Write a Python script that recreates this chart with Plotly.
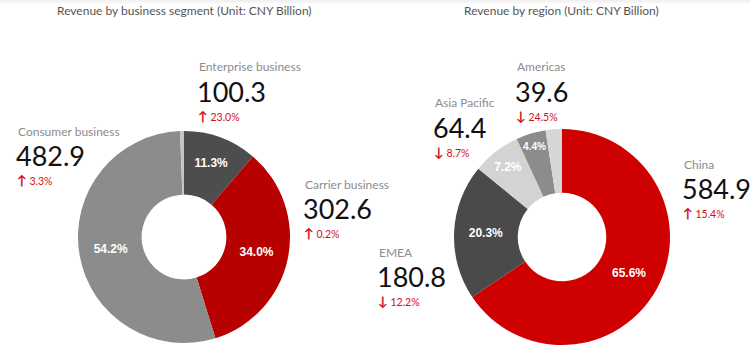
import plotly.graph_objects as go

# Data
seg_labels = ["Enterprise business", "Carrier business", "Consumer business", "Other"]
seg_values = [100.3, 302.6, 482.9, 5.3]
seg_change = ["↑|23.0%", "↑|0.2%", "↑|3.3%", ""]
seg_colors = ["#4d4d4d", "#b70000", "#8c8c8c", "#c4c4c4"]

reg_labels = ["China", "EMEA", "Asia Pacific", "Americas", "Other"]
reg_values = [584.9, 180.8, 64.4, 39.6, 21.7]
reg_change = ["↑|15.4%", "↓|12.2%", "↓|8.7%", "↓|24.5%", ""]
reg_colors = ["#cf0000", "#4a4a4a", "#d3d3d3", "#8c8c8c", "#d6d6d6"]

FONT = "Lato"

fig = go.Figure()

fig.add_trace(go.Pie(
    labels=seg_labels, values=seg_values, hole=0.4, sort=False,
    direction="clockwise", rotation=0,
    marker=dict(colors=seg_colors, line=dict(width=0)),
    texttemplate=["<b>%{percent:.1%}</b>"] * 3 + [""],
    textposition="inside", insidetextorientation="horizontal",
    textfont=dict(color="white", size=12, family="Arial"),
    domain=dict(x=[78 / 750, 290 / 750], y=[7 / 350, 219 / 350]),
    showlegend=False, hoverinfo="label+value+percent",
))

fig.add_trace(go.Pie(
    labels=reg_labels, values=reg_values, hole=0.41, sort=False,
    direction="clockwise", rotation=0,
    marker=dict(colors=reg_colors, line=dict(width=0)),
    texttemplate=["<b>%{percent:.1%}</b>"] * 4 + [""],
    textposition="inside", insidetextorientation="horizontal",
    textfont=dict(color="white", size=12, family="Arial"),
    domain=dict(x=[454 / 750, 670 / 750], y=[5 / 350, 221 / 350]),
    showlegend=False, hoverinfo="label+value+percent",
))

annotations = []

def px_x(x):
    return x / 750

def px_y(y):
    return 1 - y / 350

def add_label(name, value, change, x, y_name):
    annotations.append(dict(x=px_x(x), y=px_y(y_name), text=name, showarrow=False,
                            xanchor="left", yanchor="middle",
                            font=dict(family=FONT, size=12, color="#8c8c8c")))
    annotations.append(dict(x=px_x(x - 2), y=px_y(y_name + 24), text=f"{value:.1f}", showarrow=False,
                            xanchor="left", yanchor="middle",
                            font=dict(family=FONT, size=27, color="#111111")))
    arrow, pct = change.split("|")
    annotations.append(dict(x=px_x(x - 1), y=px_y(y_name + 49), showarrow=False,
                            text=f"<span style='font-size:13px'><b>{arrow}</b></span> {pct}",
                            xanchor="left", yanchor="middle",
                            font=dict(family=FONT, size=10.5, color="#d0101b")))

seg_pos = {"Enterprise business": (197, 67), "Carrier business": (303, 184), "Consumer business": (16, 131)}
for n, v, c in zip(seg_labels, seg_values, seg_change):
    if n in seg_pos:
        add_label(n, v, c, *seg_pos[n])

reg_pos = {"China": (682, 164), "EMEA": (377, 252), "Asia Pacific": (433, 103), "Americas": (515, 67)}
for n, v, c in zip(reg_labels, reg_values, reg_change):
    if n in reg_pos:
        add_label(n, v, c, *reg_pos[n])

annotations.append(dict(x=px_x(184), y=px_y(10), text="Revenue by business segment (Unit: CNY Billion)",
                        showarrow=False, xanchor="center", yanchor="middle",
                        font=dict(family=FONT, size=12, color="#555555")))
annotations.append(dict(x=px_x(561), y=px_y(10), text="Revenue by region (Unit: CNY Billion)",
                        showarrow=False, xanchor="center", yanchor="middle",
                        font=dict(family=FONT, size=12, color="#555555")))

shapes = []
for i, op in enumerate([0.06, 0.045, 0.03, 0.015]):
    shapes.append(dict(type="rect", xref="paper", yref="paper", x0=0, x1=1,
                       y0=px_y(i + 1), y1=px_y(i), fillcolor=f"rgba(0,0,0,{op})",
                       line=dict(width=0), layer="below"))

fig.update_layout(
    width=750, height=350, margin=dict(l=0, r=0, t=0, b=0),
    paper_bgcolor="white", plot_bgcolor="white",
    annotations=annotations, shapes=shapes,
)

fig.write_html("out.html")
